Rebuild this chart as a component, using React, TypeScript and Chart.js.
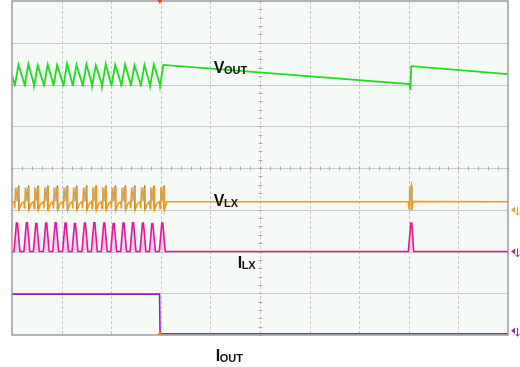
import React, { useEffect, useRef } from "react";
import { Chart, registerables } from "chart.js";

Chart.register(...registerables);

// Time axis in divisions (10 div), amplitude in divisions (8 div)
const X_GRID = [1, 2, 3, 4, 5, 6, 7, 8, 9];
const Y_GRID = [1, 2, 3, 4, 5, 6, 7];

const VOUT_POINTS: [number, number][] = [
  [0, 6.22],
  [0.05, 6.01], [0.055, 5.96], [0.13, 6.47],
  [0.25, 6.02], [0.255, 5.95], [0.33, 6.49],
  [0.44, 6.01], [0.445, 5.96], [0.52, 6.46],
  [0.64, 6.0], [0.645, 5.95], [0.72, 6.48],
  [0.83, 6.02], [0.835, 5.96], [0.91, 6.47],
  [1.03, 6.01], [1.035, 5.95], [1.11, 6.5],
  [1.22, 6.0], [1.225, 5.96], [1.3, 6.47],
  [1.42, 6.01], [1.425, 5.95], [1.5, 6.48],
  [1.61, 6.02], [1.615, 5.96], [1.69, 6.46],
  [1.81, 6.01], [1.815, 5.95], [1.89, 6.49],
  [2.0, 6.0], [2.005, 5.96], [2.08, 6.47],
  [2.2, 6.01], [2.205, 5.95], [2.28, 6.48],
  [2.39, 6.02], [2.395, 5.96], [2.47, 6.46],
  [2.59, 6.01], [2.595, 5.95], [2.67, 6.47],
  [2.78, 6.0], [2.785, 5.96], [2.86, 6.48],
  [2.98, 6.01], [2.985, 5.96], [3.05, 6.47],
  [8.02, 6.01], [8.03, 5.87], [8.05, 6.44],
  [10, 6.25],
];

const VLX_POINTS: [number, number][] = [
  [0, 3.19],
  [0.04, 3.19], [0.055, 3.03], [0.07, 3.45], [0.11, 3.3], [0.135, 3.55], [0.145, 3.0], [0.19, 3.15],
  [0.24, 3.19], [0.255, 3.03], [0.27, 3.45], [0.31, 3.3], [0.335, 3.55], [0.345, 3.0], [0.39, 3.15],
  [0.43, 3.19], [0.445, 3.03], [0.46, 3.45], [0.5, 3.3], [0.525, 3.55], [0.535, 3.0], [0.58, 3.15],
  [0.63, 3.19], [0.645, 3.03], [0.66, 3.45], [0.7, 3.3], [0.725, 3.55], [0.735, 3.0], [0.78, 3.15],
  [0.82, 3.19], [0.835, 3.03], [0.85, 3.45], [0.89, 3.3], [0.915, 3.55], [0.925, 3.0], [0.97, 3.15],
  [1.02, 3.19], [1.035, 3.03], [1.05, 3.45], [1.09, 3.3], [1.115, 3.55], [1.125, 3.0], [1.17, 3.15],
  [1.21, 3.19], [1.225, 3.03], [1.24, 3.45], [1.28, 3.3], [1.305, 3.55], [1.315, 3.0], [1.36, 3.15],
  [1.41, 3.19], [1.425, 3.03], [1.44, 3.45], [1.48, 3.3], [1.505, 3.55], [1.515, 3.0], [1.56, 3.15],
  [1.6, 3.19], [1.615, 3.03], [1.63, 3.45], [1.67, 3.3], [1.695, 3.55], [1.705, 3.0], [1.75, 3.15],
  [1.8, 3.19], [1.815, 3.03], [1.83, 3.45], [1.87, 3.3], [1.895, 3.55], [1.905, 3.0], [1.95, 3.15],
  [1.99, 3.19], [2.005, 3.03], [2.02, 3.45], [2.06, 3.3], [2.085, 3.55], [2.095, 3.0], [2.14, 3.15],
  [2.19, 3.19], [2.205, 3.03], [2.22, 3.45], [2.26, 3.3], [2.285, 3.55], [2.295, 3.0], [2.34, 3.15],
  [2.38, 3.19], [2.395, 3.03], [2.41, 3.45], [2.45, 3.3], [2.475, 3.55], [2.485, 3.0], [2.53, 3.15],
  [2.58, 3.19], [2.595, 3.03], [2.61, 3.45], [2.65, 3.3], [2.675, 3.55], [2.685, 3.0], [2.73, 3.15],
  [2.77, 3.19], [2.785, 3.03], [2.8, 3.45], [2.84, 3.3], [2.865, 3.55], [2.875, 3.0], [2.92, 3.15],
  [2.97, 3.19], [2.985, 3.03], [3.0, 3.45], [3.04, 3.3], [3.065, 3.55], [3.075, 3.0], [3.12, 3.19],
  [7.99, 3.19], [8.005, 3.02], [8.02, 3.45], [8.05, 3.58], [8.06, 3.0], [8.09, 3.2],
  [10, 3.19],
];

// persistence bands of VLX ringing: [time, low, high]
const VLX_BANDS: [number, number, number][] = [
  [0.1, 3.2, 3.53], [0.3, 3.2, 3.53], [0.49, 3.2, 3.53], [0.69, 3.2, 3.53],
  [0.88, 3.2, 3.53], [1.08, 3.2, 3.53], [1.27, 3.2, 3.53], [1.47, 3.2, 3.53],
  [1.66, 3.2, 3.53], [1.86, 3.2, 3.53], [2.05, 3.2, 3.53], [2.25, 3.2, 3.53],
  [2.44, 3.2, 3.53], [2.64, 3.2, 3.53], [2.83, 3.2, 3.53], [3.03, 3.2, 3.53],
  [8.04, 3.2, 3.55],
];

// dark switching edges of VLX: [time, low, high]
const VLX_EDGES: [number, number, number][] = [
  [0.135, 3.0, 3.58], [0.335, 3.0, 3.58], [0.525, 3.0, 3.58], [0.725, 3.0, 3.58],
  [0.915, 3.0, 3.58], [1.115, 3.0, 3.58], [1.305, 3.0, 3.58], [1.505, 3.0, 3.58],
  [1.695, 3.0, 3.58], [1.895, 3.0, 3.58], [2.085, 3.0, 3.58], [2.285, 3.0, 3.58],
  [2.475, 3.0, 3.58], [2.675, 3.0, 3.58], [2.865, 3.0, 3.58], [3.065, 3.0, 3.58],
  [8.055, 3.0, 3.6],
];

const ILX_POINTS: [number, number][] = [
  [0, 2.0],
  [0.04, 2.0], [0.09, 2.68], [0.11, 2.68], [0.16, 2.0],
  [0.24, 2.0], [0.29, 2.69], [0.31, 2.69], [0.36, 2.0],
  [0.43, 2.0], [0.48, 2.67], [0.5, 2.67], [0.55, 2.0],
  [0.63, 2.0], [0.68, 2.68], [0.7, 2.68], [0.75, 2.0],
  [0.82, 2.0], [0.87, 2.69], [0.89, 2.69], [0.94, 2.0],
  [1.02, 2.0], [1.07, 2.68], [1.09, 2.68], [1.14, 2.0],
  [1.21, 2.0], [1.26, 2.67], [1.28, 2.67], [1.33, 2.0],
  [1.41, 2.0], [1.46, 2.68], [1.48, 2.68], [1.53, 2.0],
  [1.6, 2.0], [1.65, 2.69], [1.67, 2.69], [1.72, 2.0],
  [1.8, 2.0], [1.85, 2.68], [1.87, 2.68], [1.92, 2.0],
  [1.99, 2.0], [2.04, 2.67], [2.06, 2.67], [2.11, 2.0],
  [2.19, 2.0], [2.24, 2.68], [2.26, 2.68], [2.31, 2.0],
  [2.38, 2.0], [2.43, 2.69], [2.45, 2.69], [2.5, 2.0],
  [2.58, 2.0], [2.63, 2.68], [2.65, 2.68], [2.7, 2.0],
  [2.77, 2.0], [2.82, 2.67], [2.84, 2.67], [2.89, 2.0],
  [2.97, 2.0], [3.02, 2.68], [3.04, 2.68], [3.09, 2.0],
  [7.99, 2.0], [8.04, 2.68], [8.06, 2.68], [8.1, 2.0],
  [10, 2.0],
];

const IOUT_POINTS: [number, number][] = [
  [0, 0.98],
  [2.975, 0.98],
  [2.985, 0.03],
  [10, 0.03],
];

const LABELS: { main: string; sub: string; x: number; y: number }[] = [
  { main: "V", sub: "OUT", x: 4.07, y: 6.27 },
  { main: "V", sub: "LX", x: 4.07, y: 3.1 },
  { main: "I", sub: "LX", x: 4.55, y: 1.6 },
  { main: "I", sub: "OUT", x: 4.11, y: -0.62 },
];

const toXY = (pts: [number, number][]) => pts.map(([x, y]) => ({ x, y }));
const toSegments = (segs: [number, number, number][]) => {
  const out: { x: number; y: number | null }[] = [];
  segs.forEach(([x, lo, hi]) => {
    out.push({ x, y: lo }, { x, y: hi }, { x, y: null });
  });
  return out;
};

const scopePlugin = {
  id: "scopeGrid",
  beforeDatasetsDraw(chart: any) {
    const { ctx, chartArea: a, scales } = chart;
    const xs = scales.x;
    const ys = scales.y;
    ctx.save();
    ctx.fillStyle = "#f6faf7";
    ctx.fillRect(a.left, a.top, a.right - a.left, a.bottom - a.top);
    ctx.strokeStyle = "#c9c9c9";
    ctx.lineWidth = 1;
    Y_GRID.forEach((v) => {
      const py = Math.round(ys.getPixelForValue(v)) + 0.5;
      ctx.beginPath();
      ctx.moveTo(a.left, py);
      ctx.lineTo(a.right, py);
      ctx.stroke();
    });
    ctx.setLineDash([3, 2]);
    X_GRID.forEach((v) => {
      const px = Math.round(xs.getPixelForValue(v)) + 0.5;
      ctx.beginPath();
      ctx.moveTo(px, a.top);
      ctx.lineTo(px, a.bottom);
      ctx.stroke();
    });
    ctx.setLineDash([]);
    // minor ticks on centre axes
    ctx.strokeStyle = "#a8a8a8";
    const cy = Math.round(ys.getPixelForValue(4)) + 0.5;
    for (let i = 0; i <= 50; i++) {
      const px = Math.round(xs.getPixelForValue(i * 0.2)) + 0.5;
      ctx.beginPath();
      ctx.moveTo(px, cy - 2);
      ctx.lineTo(px, cy + 2);
      ctx.stroke();
    }
    const cx = Math.round(xs.getPixelForValue(5)) + 0.5;
    for (let i = 0; i <= 40; i++) {
      const py = Math.round(ys.getPixelForValue(i * 0.2)) + 0.5;
      ctx.beginPath();
      ctx.moveTo(cx - 2, py);
      ctx.lineTo(cx + 2, py);
      ctx.stroke();
    }
    ctx.restore();
  },
  afterDatasetsDraw(chart: any) {
    const { ctx, chartArea: a, scales } = chart;
    const xs = scales.x;
    const ys = scales.y;
    ctx.save();
    // frame
    ctx.strokeStyle = "#9c9c9c";
    ctx.lineWidth = 1.5;
    ctx.strokeRect(a.left, a.top, a.right - a.left, a.bottom - a.top);

    // trigger markers
    const tx = xs.getPixelForValue(2.98);
    ctx.fillStyle = "#ff4020";
    ctx.beginPath();
    ctx.moveTo(tx - 2.5, 0);
    ctx.lineTo(tx + 2.5, 0);
    ctx.lineTo(tx, 4);
    ctx.closePath();
    ctx.fill();
    ctx.fillStyle = "#f08020";
    ctx.beginPath();
    ctx.moveTo(tx - 2.5, a.bottom);
    ctx.lineTo(tx + 2.5, a.bottom);
    ctx.lineTo(tx, a.bottom - 4);
    ctx.closePath();
    ctx.fill();

    // channel markers on right
    const marks: [number, string][] = [
      [3.0, "#f0a020"],
      [2.0, "#e0189c"],
      [0.1, "#a020c0"],
    ];
    marks.forEach(([v, c]) => {
      const py = ys.getPixelForValue(v);
      const px = a.right + 3;
      ctx.fillStyle = c;
      ctx.beginPath();
      ctx.moveTo(px, py);
      ctx.lineTo(px + 4, py - 3);
      ctx.lineTo(px + 4, py + 3);
      ctx.closePath();
      ctx.fill();
      ctx.strokeStyle = c;
      ctx.lineWidth = 1;
      ctx.beginPath();
      ctx.moveTo(px + 6.5, py - 3);
      ctx.lineTo(px + 6.5, py + 5);
      ctx.moveTo(px + 4.5, py + 3);
      ctx.lineTo(px + 6.5, py + 5.5);
      ctx.lineTo(px + 8.5, py + 3);
      ctx.stroke();
    });

    // labels
    ctx.fillStyle = "#111111";
    ctx.textBaseline = "alphabetic";
    ctx.textAlign = "left";
    LABELS.forEach((l) => {
      const px = xs.getPixelForValue(l.x);
      const py = ys.getPixelForValue(l.y);
      ctx.font = 'bold 16px "Liberation Sans", Arial, sans-serif';
      ctx.fillText(l.main, px, py);
      const w = ctx.measureText(l.main).width;
      ctx.font = 'bold 11px "Liberation Sans", Arial, sans-serif';
      ctx.fillText(l.sub, px + w - 0.5, py + 1);
    });
    ctx.restore();
  },
};

export default function App() {
  const ref = useRef<HTMLCanvasElement | null>(null);
  useEffect(() => {
    document.body.style.margin = "0";
    document.body.style.background = "#ffffff";
    if (!ref.current) return;
    const chart = new Chart(ref.current, {
      type: "line",
      data: {
        datasets: [
          {
            label: "IOUT",
            data: toXY(IOUT_POINTS),
            borderColor: "#9b1cc2",
            borderWidth: 1.6,
            pointRadius: 0,
            tension: 0,
          },
          {
            label: "ILX",
            data: toXY(ILX_POINTS),
            borderColor: "#e3169c",
            backgroundColor: "rgba(238,150,210,0.45)",
            fill: { value: 2.0 },
            borderWidth: 1.6,
            pointRadius: 0,
            tension: 0,
          },
          {
            label: "VLX band",
            data: toSegments(VLX_BANDS),
            borderColor: "rgba(196,160,110,0.75)",
            borderWidth: 4,
            pointRadius: 0,
            spanGaps: false,
          },
          {
            label: "VLX",
            data: toXY(VLX_POINTS),
            borderColor: "#f29a1a",
            borderWidth: 1.5,
            pointRadius: 0,
            tension: 0,
          },
          {
            label: "VLX edge",
            data: toSegments(VLX_EDGES),
            borderColor: "#6e4a12",
            borderWidth: 1.2,
            pointRadius: 0,
            spanGaps: false,
          },
          {
            label: "VOUT",
            data: toXY(VOUT_POINTS),
            borderColor: "#1fdc1f",
            borderWidth: 1.8,
            pointRadius: 0,
            tension: 0,
          },
        ],
      },
      options: {
        responsive: false,
        animation: false,
        parsing: true,
        layout: { padding: { left: 12, right: 12, top: 1, bottom: 32 } },
        plugins: { legend: { display: false }, tooltip: { enabled: false } },
        scales: {
          x: { type: "linear", min: 0, max: 10, display: false },
          y: { type: "linear", min: 0, max: 8, display: false },
        },
      },
      plugins: [scopePlugin],
    });
    return () => chart.destroy();
  }, []);
  return (
    <div style={{ width: 520, height: 367 }}>
      <canvas ref={ref} width={520} height={367} style={{ display: "block" }} />
    </div>
  );
}
